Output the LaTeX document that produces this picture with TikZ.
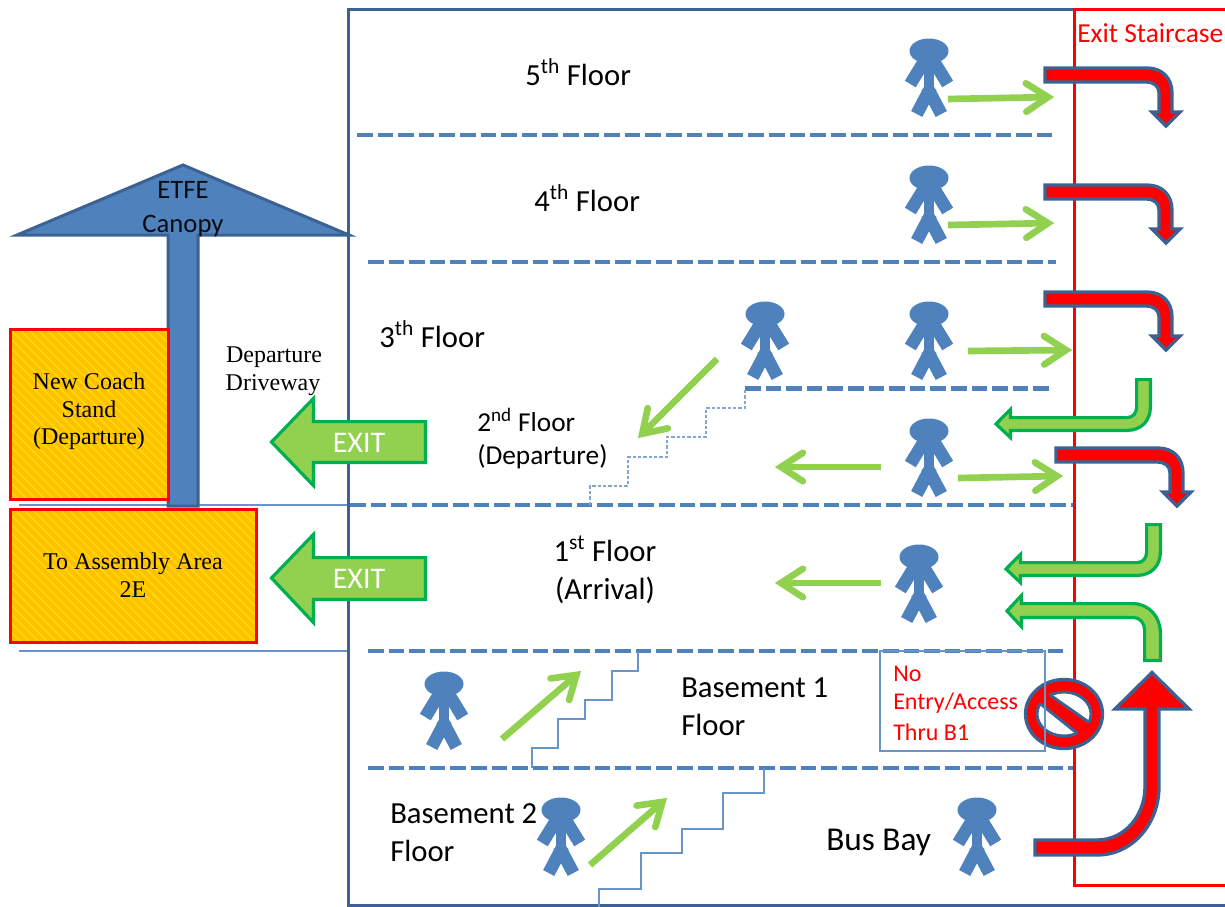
\documentclass[tikz,border=0pt]{standalone}
\usepackage{fontspec}
\setmainfont{Carlito}
\newfontfamily\timesf{Liberation Serif}
\usetikzlibrary{calc}
\definecolor{sblue}{HTML}{4F81BD}
\definecolor{dblue}{HTML}{3B6293}
\definecolor{lgreen}{HTML}{92D050}
\definecolor{dgreen}{HTML}{00B050}
\definecolor{xorange}{HTML}{FFC000}
\definecolor{xyellow}{HTML}{FFDC00}
\newcommand{\fs}[1]{\fontsize{#1}{#1}\selectfont}
\tikzset{
  x=0.75pt,y=-0.75pt,
  floorline/.style={draw=sblue,line width=3.5pt,dash pattern=on 11.7pt off 3.75pt},
  stairline/.style={draw=sblue!85!white,line width=0.9pt},
  thinline/.style={draw=sblue!85!white,line width=0.9pt},
  frameline/.style={draw=dblue,line width=2.25pt},
  redline/.style={draw=red,line width=2.25pt},
  greenshaft/.style={draw=lgreen,line width=5pt},
  greenbarb/.style={draw=lgreen,line width=5pt,line cap=round,miter limit=10},
  redarrow/.style={fill=red,draw=dblue,line width=2.5pt,line join=miter},
  greenbig/.style={fill=lgreen,draw=dgreen,line width=2.4pt,line join=miter},
  floorlabel/.style={inner sep=0pt,anchor=west,align=left,text=black},
  seriflabel/.style={inner sep=0pt,align=center,text=black,font=\timesf\fs{18}},
  exitlabel/.style={inner sep=0pt,text=white,font=\fs{22.5}},
  redlabel/.style={inner sep=0pt,anchor=west,text=red,font=\fs{18}},
  person/.pic={
    \fill[sblue] (0,0) ellipse [x radius=19.5,y radius=12.5];
    \draw[sblue,line width=7.5pt] (0,3) -- (0,44);
    \draw[sblue,line width=9.5pt] (-4,9) -- (-18.7,33);
    \draw[sblue,line width=9.5pt] (4,9) -- (18.7,33);
    \draw[sblue,line width=9.5pt] (2,36) -- (-12.3,63);
    \draw[sblue,line width=9.5pt] (-2,36) -- (12.3,63);
  },
  turnright/.pic={
    \path[redarrow] (1,1) -- (103,1) .. controls (118,1) and (128,11) .. (128,26) -- (128,45) -- (136,45)
      -- (122,59) -- (108,45) -- (115,45) -- (115,26) .. controls (115,19) and (110,15) .. (102,15) -- (1,15) -- cycle;
  },
  greenturn/.pic={
    \path[greenbig] (-1.6,1.6) -- (-15.4,1.6) -- (-15.4,29) .. controls (-15.4,35) and (-19,39.6) .. (-25,39.6) -- (-141.6,39.6) -- (-141.6,31.5)
      -- (-156,46) -- (-141.6,59.5) -- (-141.6,52.4) -- (-25,52.4) .. controls (-11,52.4) and (-1.6,43) .. (-1.6,29) -- cycle;
  },
}
\newcommand{\garrow}[2]{%
  \draw[greenshaft] (#1) -- ($(#2)!4.5pt!(#1)$);
  \draw[greenbarb] ($(#2)!23.5pt!27:(#1)$) -- ($(#2)!4.5pt!(#1)$) -- ($(#2)!23.5pt!-27:(#1)$);
}
\begin{document}
\begin{tikzpicture}
\useasboundingbox (0,0) rectangle (1225,907);

% thin horizontal lines
\draw[thinline] (19,505) -- (348,505);
\draw[thinline] (19,651) -- (348,651);

% canopy
\path[fill=sblue,draw=dblue,line width=2.25pt] (168,235) -- (17,235) -- (183,165) -- (349,235) -- (198,235) -- (198,506) -- (168,506) -- cycle;
\fill[sblue] (170,232) rectangle (196,240);

% frame
\draw[frameline] (1074,9) -- (348,9) -- (348,905) -- (1225,905);

% floor lines
\draw[floorline] (357,135) -- (1056,135);
\draw[floorline] (368,262) -- (1056,262);
\draw[floorline] (745,388.5) -- (1050,388.5);
\draw[floorline] (350,505) -- (1073,505);
\draw[floorline] (368,651) -- (1064,651);
\draw[floorline] (368,768) -- (1073,768);

% stairs
\draw[draw=sblue!70!white,line width=0.9pt,dash pattern=on 2.4pt off 1.6pt] (590,505) |- (628,486) |- (667,457) |- (706,437) |- (745,408) -- (745,389);
\draw[stairline] (532,768) |- (558,748) |- (585,719) |- (612,700) |- (638,671) -- (638,652);
\draw[stairline] (599,907) |- (641,889) |- (682,853) |- (723,829) |- (764,793) -- (764,768);

% assembly boxes
\begin{scope}
  \clip (10,329) rectangle (168,499);
  \fill[xorange] (10,329) rectangle (168,499);
  \foreach \i in {-180,-171,...,170}
    \draw[xyellow,line width=1.1pt] (10+\i,329) -- (10+\i+170,499);
\end{scope}
\draw[redline] (10,329) rectangle (168,499);
\begin{scope}
  \clip (10,509) rectangle (256,642);
  \fill[xorange] (10,509) rectangle (256,642);
  \foreach \i in {-140,-131,...,250}
    \draw[xyellow,line width=1.1pt] (10+\i,509) -- (10+\i+133,642);
\end{scope}
\draw[redline] (10,509) rectangle (256,642);

% red staircase
\draw[redline] (1225,9) -- (1074,9) -- (1074,885) -- (1225,885);

% people
\pic at (929,51) {person};
\pic at (929,178) {person};
\pic at (765,314) {person};
\pic at (929,314) {person};
\pic at (929,431) {person};
\pic at (919,557) {person};
\pic at (444,684) {person};
\pic at (561,810) {person};
\pic at (977,810) {person};

% thin green arrows
\garrow{948,99}{1054,97}
\garrow{948,225}{1054,223}
\garrow{968,351}{1072,350}
\garrow{717,359}{638,438}
\garrow{881,467}{775,467}
\garrow{958,478}{1063,476}
\garrow{881,583}{775,583}
\garrow{502,739}{581,671}
\garrow{590,865}{667,798}

% red turning arrows
\pic at (1044,67) {turnright};
\pic at (1044,184) {turnright};
\pic at (1044,291) {turnright};
\pic at (1055,447) {turnright};

% green turning arrows
\pic at (1152,378) {greenturn};
\pic at (1162,523) {greenturn};
\path[greenbig] (1160.4,660.4) -- (1144.6,660.4) -- (1144.6,630) .. controls (1144.6,623) and (1140,617.4) .. (1133,617.4) -- (1021.4,617.4) -- (1021.4,626.5)
  -- (1007,611) -- (1021.4,595.5) -- (1021.4,603.6) -- (1133,603.6) .. controls (1149,603.6) and (1160.4,617) .. (1160.4,633) -- cycle;

% big red arrow
\path[redarrow] (1035,840) -- (1097,840) .. controls (1125,840) and (1145,815) .. (1145,787) -- (1145,709) -- (1115,709) -- (1152,672.5)
  -- (1189,709) -- (1159,709) -- (1159,787) .. controls (1159,823) and (1133,855) .. (1097,855) -- (1035,855) -- cycle;

% no entry sign
\path[fill=red,draw=dblue,line width=2.5pt] (1064,714) ellipse [x radius=38.5,y radius=34.5];
\begin{scope}
  \clip (1023,676) -- (1110,737) -- (1120,660) -- cycle;
  \path[fill=white,draw=dblue,line width=2.2pt] (1064,714) ellipse [x radius=27,y radius=22];
\end{scope}
\begin{scope}
  \clip (1022,689) -- (1098,750) -- (1010,760) -- cycle;
  \path[fill=white,draw=dblue,line width=2.2pt] (1064,714) ellipse [x radius=27,y radius=22];
\end{scope}
\begin{scope}
  \clip (1064,714) ellipse [x radius=27,y radius=22];
  \draw[dblue,line width=2.2pt] (1023,676) -- (1110,737);
  \draw[dblue,line width=2.2pt] (1022,689) -- (1098,750);
\end{scope}

% no entry box
\draw[thinline] (880,651) rectangle (1045,751);

% exit arrows
\path[greenbig] (425.4,421.6) -- (313.4,421.6) -- (313.4,398.5) -- (271.5,442) -- (313.4,485.5) -- (313.4,462.4) -- (425.4,462.4) -- cycle;
\path[greenbig] (425.4,557.6) -- (313.4,557.6) -- (313.4,534.5) -- (271.5,578) -- (313.4,622.5) -- (313.4,599.4) -- (425.4,599.4) -- cycle;

% labels
\node[exitlabel] (exitA) at (359,443) {EXIT};
\node[exitlabel] (exitB) at (359,579) {EXIT};
\node[inner sep=0pt,text=red,font=\fs{20.6},anchor=west] (stair) at (1077,33) {Exit Staircase};
\node[floorlabel,font=\fs{23}] (f5) at (525,72) {5\textsuperscript{th} Floor};
\node[floorlabel,font=\fs{23}] (f4) at (534,198) {4\textsuperscript{th} Floor};
\node[floorlabel,font=\fs{23}] (f3) at (379,334) {3\textsuperscript{th} Floor};
\node[floorlabel,font=\fs{20.5}] (f2a) at (477,420) {2\textsuperscript{nd} Floor};
\node[floorlabel,font=\fs{20.5}] (f2b) at (477,457) {(Departure)};
\node[inner sep=0pt,font=\fs{23}] (f1a) at (605,549) {1\textsuperscript{st} Floor};
\node[inner sep=0pt,font=\fs{23}] (f1b) at (605,590) {(Arrival)};
\node[floorlabel,font=\fs{23}] (b1a) at (681,688) {Basement 1};
\node[floorlabel,font=\fs{23}] (b1b) at (681,725) {Floor};
\node[floorlabel,font=\fs{23}] (b2a) at (390,814) {Basement 2};
\node[floorlabel,font=\fs{23}] (b2b) at (390,851) {Floor};
\node[floorlabel,font=\fs{25}] (bus) at (826,842) {Bus Bay};
\node[redlabel] (no1) at (893,674) {No};
\node[redlabel] (no2) at (893,703) {Entry/Access};
\node[redlabel] (no3) at (893,732) {Thru B1};
\node[inner sep=0pt,font=\fs{20},text=black!90!sblue] (etfe) at (183,190) {ETFE};
\node[inner sep=0pt,font=\fs{20},text=black!90!sblue] (canopy) at (183,226) {Canopy};
\node[seriflabel] (dd1) at (274,357) {Departure};
\node[seriflabel] (dd2) at (273,385) {Driveway};
\node[seriflabel] (nc1) at (89,381) {New Coach};
\node[seriflabel] (nc2) at (89,409) {Stand};
\node[seriflabel] (nc3) at (89,439) {(Departure)};
\node[seriflabel] (as1) at (133,564) {To Assembly Area};
\node[seriflabel] (as2) at (133,590) {2E};
\end{tikzpicture}
\end{document}
